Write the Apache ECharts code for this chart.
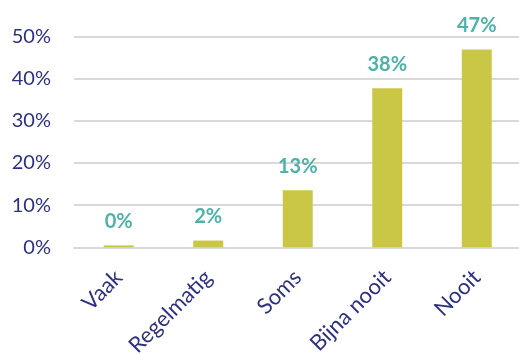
<!DOCTYPE html>
<html>
<head>
<meta charset="utf-8">
<script src="https://cdn.jsdelivr.net/npm/echarts@6/dist/echarts.min.js"></script>
<style>
html,body{margin:0;padding:0;background:#fff;}
#c{width:519px;height:354px;}
</style>
</head>
<body>
<div id="c"></div>
<script>
var categories = ["Vaak", "Regelmatig", "Soms", "Bijna nooit", "Nooit"];
var values = [0.45, 1.6, 13.55, 37.7, 46.9];
var valueLabels = ["0%", "2%", "13%", "38%", "47%"];
var yTicks = [0, 10, 20, 30, 40, 50];

var chart = echarts.init(document.getElementById('c'), null, {renderer: 'canvas'});
chart.setOption({
  animation: false,
  grid: {left: 74, right: -2.5, top: 36.5, bottom: 106.7, containLabel: false, outerBoundsMode: 'none'},
  xAxis: {
    type: 'category',
    data: categories,
    axisLine: {show: true, lineStyle: {color: '#d9d9d9', width: 2}},
    axisTick: {show: false},
    axisLabel: {
      rotate: 45, margin: 11, interval: 0, verticalAlign: 'top',
      padding: [0, 11, 0, 0],
      color: '#2e3182', fontFamily: 'Lato', fontSize: 22
    }
  },
  yAxis: {
    type: 'value',
    min: yTicks[0], max: yTicks[yTicks.length - 1], interval: 10,
    axisLine: {show: false},
    axisTick: {show: false},
    splitLine: {lineStyle: {color: '#d9d9d9', width: 2}},
    axisLabel: {
      margin: 23, color: '#2e3182', fontFamily: 'Lato', fontSize: 20,
      formatter: function (v) { return v + '%'; }
    }
  },
  series: [{
    type: 'bar',
    data: values,
    barWidth: 30,
    itemStyle: {color: '#cbc746'},
    label: {
      show: true, position: 'top', distance: 14,
      color: '#4db2a8', fontFamily: 'Lato', fontWeight: 'bold', fontSize: 20,
      formatter: function (p) { return valueLabels[p.dataIndex]; }
    }
  }]
});
</script>
</body>
</html>
